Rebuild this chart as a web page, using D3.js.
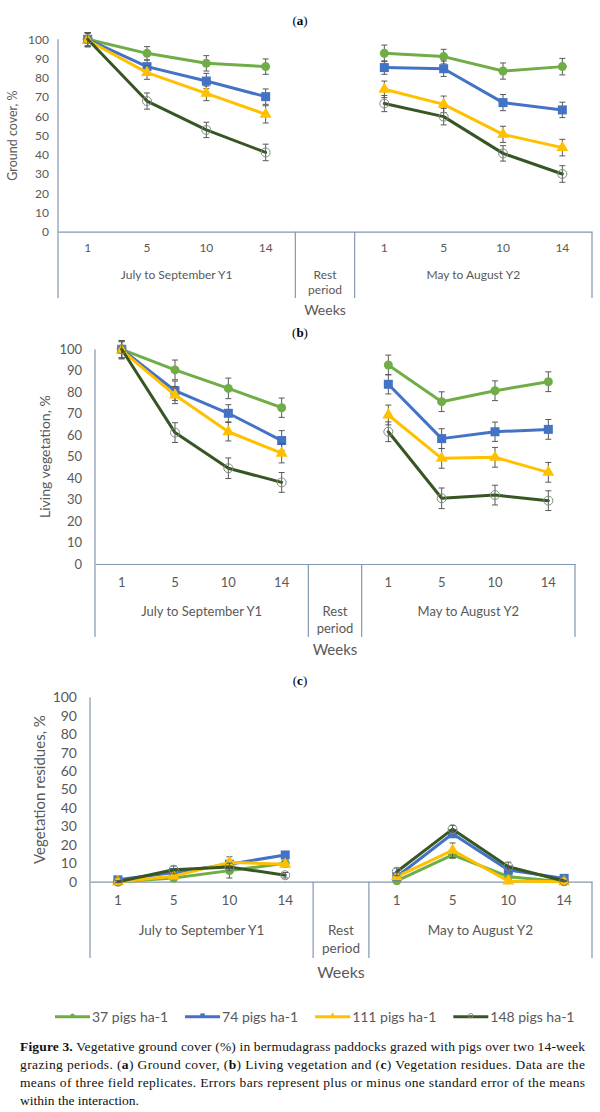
<!DOCTYPE html>
<html>
<head>
<meta charset="utf-8">
<script src="https://cdn.jsdelivr.net/npm/d3@7"></script>
<style>
  body { margin: 0; background: #fff; }
  svg { display: block; }
</style>
</head>
<body>
<svg id="fig" width="600" height="1112"></svg>
<script>
const seriesNames = ['37 pigs ha-1', '74 pigs ha-1', '111 pigs ha-1', '148 pigs ha-1'];
const seriesColors = ['#70ad47', '#4472c4', '#ffc000', '#375623'];
const weeks = ['1', '5', '10', '14'];
const periods = ['July to September Y1', 'Rest period', 'May to August Y2'];
const yTicks = [0, 10, 20, 30, 40, 50, 60, 70, 80, 90, 100];

// each row: weeks 1,5,10,14 of Y1 then weeks 1,5,10,14 of Y2
const coverMean = [
  [100, 92.7, 87.5, 85.8, 92.7, 91.0, 83.5, 85.8],
  [100, 85.8, 78.3, 70.2, 85.3, 84.7, 67.1, 63.3],
  [99.5, 82.7, 71.9, 61.0, 74.0, 66.2, 50.6, 43.7],
  [100, 67.9, 52.9, 41.2, 66.6, 59.8, 40.7, 30.0]
];
const coverSE = [
  [3.5, 3.5, 4.0, 4.0, 4.3, 3.8, 4.2, 4.3],
  [3.5, 3.5, 4.0, 4.0, 3.5, 4.0, 4.2, 4.0],
  [3.5, 3.5, 3.8, 4.5, 4.3, 4.3, 4.2, 4.3],
  [3.5, 4.2, 4.0, 4.3, 4.2, 4.3, 4.0, 4.3]
];
const livingMean = [
  [100, 90.4, 81.8, 72.8, 92.7, 75.6, 80.7, 84.9],
  [100, 80.7, 70.2, 57.5, 83.7, 58.4, 61.6, 62.7],
  [99.5, 78.7, 61.6, 51.6, 69.4, 49.2, 49.7, 42.7],
  [100, 61.2, 44.6, 38.0, 61.6, 30.6, 32.1, 29.5]
];
const livingSE = [
  [4.0, 4.6, 4.8, 4.5, 4.6, 4.6, 4.6, 4.6],
  [4.0, 4.5, 4.0, 4.6, 4.5, 4.6, 4.5, 4.6],
  [4.0, 4.0, 4.3, 4.5, 4.6, 4.6, 4.6, 4.6],
  [4.0, 4.6, 4.8, 4.6, 4.6, 4.8, 4.6, 4.6]
];
const residueMean = [
  [0, 2, 6, 10, 0.5, 14.6, 2.7, 0],
  [1, 5, 9.5, 14.5, 2.7, 26, 6.3, 1.8],
  [0, 3, 10.5, 9.5, 2.7, 17, 0.4, 0],
  [0, 6.5, 8, 3.5, 5.4, 28.5, 8.1, 0.4]
];
const residueSE = [
  [0.5, 1, 4, 1.5, 0.5, 2, 1, 0.3],
  [0.5, 1, 1.5, 1.5, 1, 2, 1, 0.8],
  [0.5, 1, 3, 1.5, 1, 4, 0.5, 0.3],
  [0.5, 2, 2, 1.5, 2, 2, 2.5, 0.3]
];

const svg = d3.select('#fig');
const axisColor = '#8497b0';
const textColor = '#595959';
const font = 'Lato, "Open Sans", sans-serif';
const serif = '"Liberation Serif", "DejaVu Serif", serif';

// 9 slots on the category axis: 4 weeks, the rest period, 4 weeks
const slots = [...weeks.map(w => 'Y1-' + w), 'rest', ...weeks.map(w => 'Y2-' + w)];

function drawMarker(g, i, x, y, scale = 1) {
  if (i === 0) {
    g.append('circle').attr('cx', x).attr('cy', y).attr('r', 4.5 * scale).attr('fill', seriesColors[0]);
  } else if (i === 1) {
    let s = 9 * scale;
    g.append('rect').attr('x', x - s / 2).attr('y', y - s / 2).attr('width', s).attr('height', s)
      .attr('fill', seriesColors[1]);
  } else if (i === 2) {
    g.append('path').attr('transform', `translate(${x},${y})`)
      .attr('d', d3.symbol().type(d3.symbolTriangle).size(62 * scale * scale)())
      .attr('fill', seriesColors[2]);
  } else {
    g.append('circle').attr('cx', x).attr('cy', y).attr('r', 4.5 * scale)
      .attr('fill', 'none').attr('stroke', '#7d8e80').attr('stroke-width', 1);
  }
}

function drawPanel(cfg, means, ses) {
  let g = svg.append('g');

  let x = d3.scaleBand().domain(slots).range([cfg.left, cfg.right]).padding(0);
  let y = d3.scaleLinear().domain([0, 100]).range([cfg.y0, cfg.top]);
  let cx = k => x(k) + x.bandwidth() / 2;

  // panel letter
  let t = g.append('text').attr('x', 300).attr('y', cfg.letterY).attr('text-anchor', 'middle')
    .attr('font-family', serif).attr('font-size', 13).attr('fill', '#000');
  t.append('tspan').text('(');
  t.append('tspan').attr('font-weight', 'bold').text(cfg.letter);
  t.append('tspan').text(')');

  // y axis
  let ya = g.append('g').attr('transform', `translate(${cfg.left},0)`)
    .call(d3.axisLeft(y).tickValues(yTicks).tickSize(0).tickPadding(cfg.tickGap));
  ya.select('.domain').remove();
  ya.selectAll('text').attr('font-family', font).attr('font-size', cfg.tickSize).attr('fill', textColor);
  g.append('line').attr('x1', cfg.left).attr('x2', cfg.left).attr('y1', cfg.top).attr('y2', cfg.catBottom)
    .attr('stroke', axisColor).attr('stroke-width', 1.2);

  g.append('text')
    .attr('transform', `translate(${cfg.yTitleX},${(cfg.top + cfg.y0) / 2}) rotate(-90)`)
    .attr('text-anchor', 'middle').attr('dy', '0.35em')
    .attr('font-family', font).attr('font-size', cfg.yTitleSize).attr('fill', textColor)
    .text(cfg.yTitle);

  // category axis: weeks
  let xa = g.append('g').attr('transform', `translate(0,${cfg.y0})`)
    .call(d3.axisBottom(x).tickSize(0).tickPadding(0).tickFormat(d => d.split('-')[1] || ''));
  xa.select('.domain').attr('stroke', axisColor).attr('stroke-width', 1.2);
  xa.selectAll('text').attr('y', cfg.weekY - cfg.y0).attr('dy', '0.35em')
    .attr('font-family', font).attr('font-size', cfg.labelSize).attr('fill', textColor);

  // category axis: periods and separators
  let groups = [
    { name: periods[0], from: slots[0], to: slots[3] },
    { name: periods[1], from: 'rest', to: 'rest' },
    { name: periods[2], from: slots[5], to: slots[8] }
  ];
  groups.forEach((p, gi) => {
    let x0 = x(p.from), x1 = x(p.to) + x.bandwidth();
    if (gi > 0) {
      g.append('line').attr('x1', x0).attr('x2', x0).attr('y1', cfg.y0).attr('y2', cfg.catBottom)
        .attr('stroke', axisColor).attr('stroke-width', 1.2);
    }
    let lbl = g.append('text').attr('text-anchor', 'middle')
      .attr('font-family', font).attr('font-size', cfg.labelSize).attr('fill', textColor);
    if (p.name === 'Rest period') {
      lbl.append('tspan').attr('x', (x0 + x1) / 2).attr('y', cfg.periodY).attr('dy', '0.35em').text('Rest');
      lbl.append('tspan').attr('x', (x0 + x1) / 2).attr('y', cfg.periodY2).attr('dy', '0.35em').text('period');
    } else {
      lbl.attr('x', (x0 + x1) / 2).attr('y', cfg.periodY).attr('dy', '0.35em').text(p.name);
    }
  });
  g.append('line').attr('x1', cfg.right).attr('x2', cfg.right).attr('y1', cfg.y0).attr('y2', cfg.catBottom)
    .attr('stroke', axisColor).attr('stroke-width', 1.2);

  g.append('text').attr('x', (x('rest') + x.bandwidth() / 2)).attr('y', cfg.weeksY).attr('dy', '0.35em')
    .attr('text-anchor', 'middle').attr('font-family', font).attr('font-size', cfg.weeksSize)
    .attr('fill', textColor).text('Weeks');

  // series
  let line = d3.line().x(d => cx(d.k)).y(d => y(d.v));
  means.forEach((row, si) => {
    let pts = row.map((v, j) => ({ k: j < 4 ? slots[j] : slots[j + 1], v, se: ses[si][j] }));
    let sg = g.append('g');
    [pts.slice(0, 4), pts.slice(4)].forEach(seg => {
      sg.append('path').attr('d', line(seg)).attr('fill', 'none')
        .attr('stroke', seriesColors[si]).attr('stroke-width', 3)
        .attr('stroke-linejoin', 'round').attr('stroke-linecap', 'round');
    });
    pts.forEach(p => {
      let px = cx(p.k), lo = y(p.v - p.se), hi = y(p.v + p.se);
      sg.append('line').attr('x1', px).attr('x2', px).attr('y1', lo).attr('y2', hi)
        .attr('stroke', textColor).attr('stroke-width', 1);
      [lo, hi].forEach(yy => sg.append('line').attr('x1', px - 3).attr('x2', px + 3)
        .attr('y1', yy).attr('y2', yy).attr('stroke', textColor).attr('stroke-width', 1));
    });
    pts.forEach(p => drawMarker(sg, si, cx(p.k), y(p.v)));
  });
}

drawPanel({
  letter: 'a', letterY: 25, left: 58, right: 592, top: 39.3, y0: 231.7, catBottom: 298,
  tickSize: 12, tickGap: 9, labelSize: 12, weekY: 248, periodY: 275, periodY2: 290,
  weeksY: 310, weeksSize: 14, yTitle: 'Ground cover, %', yTitleX: 13, yTitleSize: 12.5
}, coverMean, coverSE);

drawPanel({
  letter: 'b', letterY: 337, left: 95, right: 575, top: 349.3, y0: 564, catBottom: 637,
  tickSize: 13, tickGap: 13, labelSize: 13, weekY: 582, periodY: 611, periodY2: 628,
  weeksY: 650, weeksSize: 15, yTitle: 'Living vegetation, %', yTitleX: 45, yTitleSize: 14
}, livingMean, livingSE);

drawPanel({
  letter: 'c', letterY: 685, left: 90, right: 592, top: 697.3, y0: 881.7, catBottom: 958,
  tickSize: 14, tickGap: 13, labelSize: 13.5, weekY: 900.7, periodY: 930.7, periodY2: 948,
  weeksY: 972.7, weeksSize: 16, yTitle: 'Vegetation residues, %', yTitleX: 40, yTitleSize: 15
}, residueMean, residueSE);

// legend
let lx = 55;
const legendY = 1016.7;
seriesNames.forEach((name, i) => {
  let lg = svg.append('g');
  lg.append('line').attr('x1', lx).attr('x2', lx + 35).attr('y1', legendY).attr('y2', legendY)
    .attr('stroke', seriesColors[i]).attr('stroke-width', 3);
  drawMarker(lg, i, lx + 17.5, legendY - 1, 0.5);
  let tx = lg.append('text').attr('x', lx + 37).attr('y', legendY).attr('dy', '0.35em')
    .attr('font-family', font).attr('font-size', 14).attr('fill', textColor).text(name);
  lx += 37 + tx.node().getComputedTextLength() + 17;
});

// caption
const captionLines = [
  [['b', 'Figure 3.'], ['', ' Vegetative ground cover (%) in bermudagrass paddocks grazed with pigs over two 14-week']],
  [['', 'grazing periods. ('], ['b', 'a'], ['', ') Ground cover, ('], ['b', 'b'], ['', ') Living vegetation and ('], ['b', 'c'], ['', ') Vegetation residues. Data are the']],
  [['', 'means of three field replicates. Errors bars represent plus or minus one standard error of the means']],
  [['', 'within the interaction.']]
];
captionLines.forEach((parts, i) => {
  let t = svg.append('text').attr('x', 20).attr('y', 1046.7 + i * 17.8).attr('dy', '0.35em')
    .attr('font-family', serif).attr('font-size', 13.5).attr('fill', '#111');
  parts.forEach(([w, s]) => t.append('tspan').attr('font-weight', w ? 'bold' : null).text(s));
  if (i < 3) t.attr('textLength', 565).attr('lengthAdjust', 'spacing');
});
</script>
</body>
</html>
